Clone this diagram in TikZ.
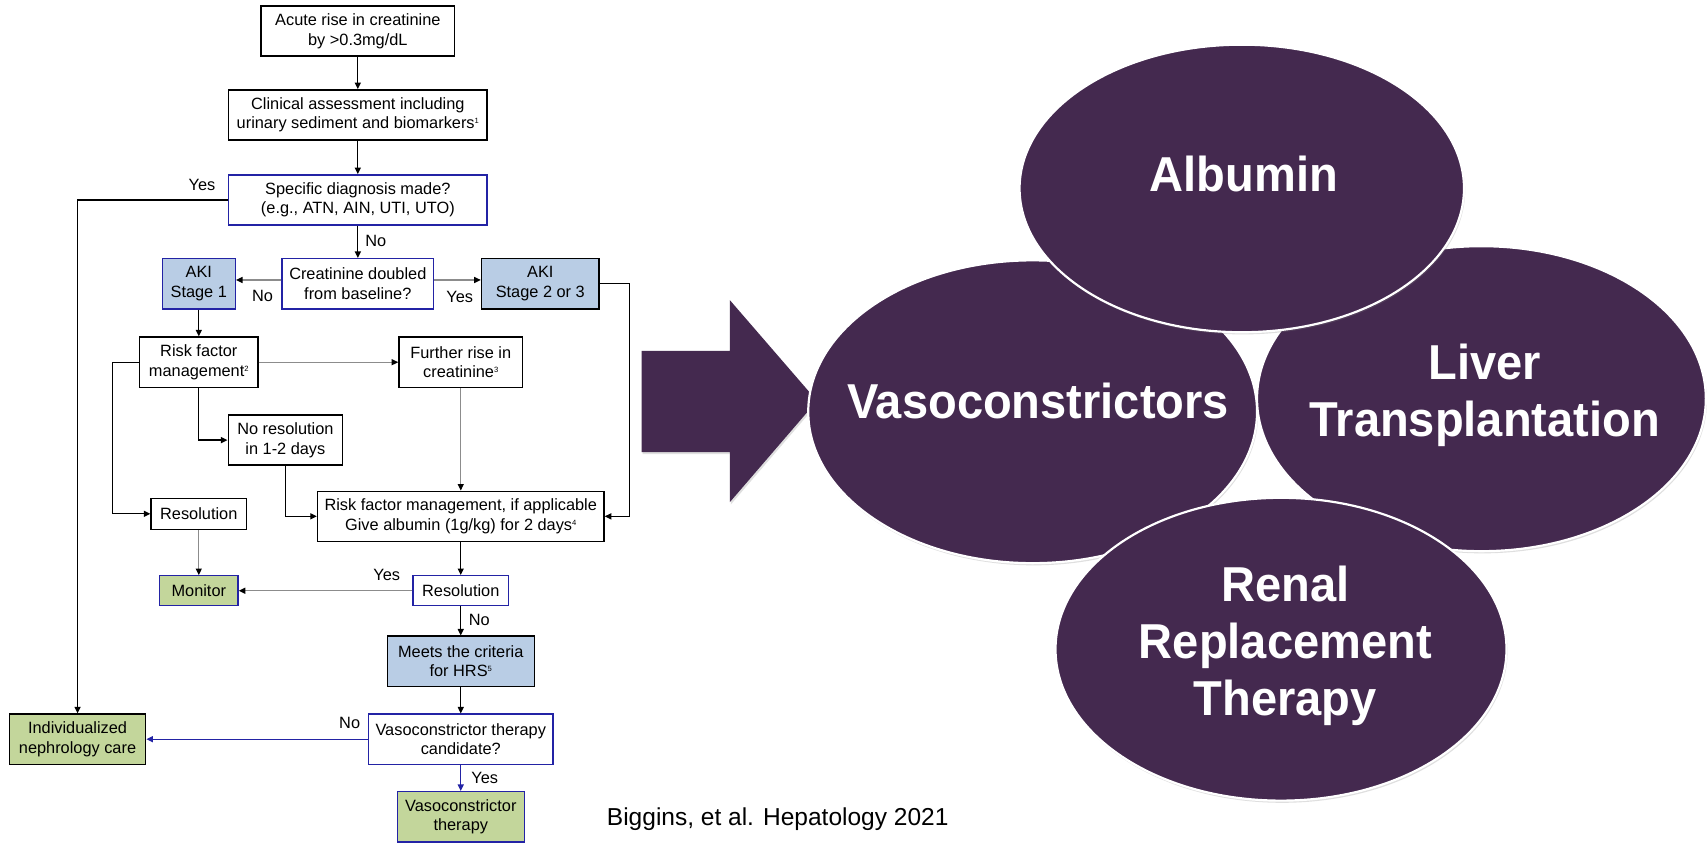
\documentclass[tikz,border=0pt]{standalone}
\usepackage{fontspec}
\setmainfont{Liberation Sans}
\newfontfamily\bubblefont{Liberation Sans}[FakeStretch=0.96]
\usetikzlibrary{arrows.meta,shadows}
\definecolor{aubergine}{RGB}{68,41,79}
\definecolor{akiblue}{RGB}{185,205,229}
\definecolor{okgreen}{RGB}{195,214,155}
\definecolor{edgeblue}{RGB}{35,35,165}
\definecolor{linegray}{RGB}{140,140,140}
\newcommand{\supnum}[1]{\raisebox{0.6ex}{\fontsize{7}{7}\selectfont #1}}

\begin{document}
\begin{tikzpicture}[x=1pt,y=-1pt,
  box/.style={draw, line width=1.3pt, inner sep=0pt, minimum height=46pt, align=center, font=\fontsize{15}{18}\selectfont},
  bluebox/.style={box, draw=edgeblue},
  lbl/.style={inner sep=0pt, font=\fontsize{15}{18}\selectfont},
  flow/.style={line width=1.2pt, -{Triangle[length=6pt,width=5.5pt]}},
  grayflow/.style={line width=1.2pt, draw=linegray, -{Triangle[length=6pt,width=5.5pt,color=black]}},
  blueflow/.style={flow, draw=edgeblue},
  softshadow/.style={drop shadow={opacity=0.25, shadow xshift=1pt, shadow yshift=-2pt}},
  bubble/.style={fill=aubergine, draw=white, line width=2pt, softshadow},
  bubbletext/.style={text=white, align=center, inner sep=0pt, font=\bubblefont\bfseries\fontsize{45}{52}\selectfont}]
  \fill[white] (0,0) rectangle (1568,773);
  % flowchart
  \node[box, minimum width=178pt] (acute) at (328.5,28.5) {Acute rise in creatinine\\by >0.3mg/dL};
  \node[box, minimum width=237pt] (clin) at (328.5,105.5) {Clinical assessment including\\urinary sediment and biomarkers\supnum{1}};
  \node[bluebox, minimum width=237pt] (spec) at (328.5,183.5) {Specific diagnosis made?\\(e.g., ATN, AIN, UTI, UTO)};
  \node[bluebox, minimum width=139pt] (dbl) at (328.5,260.5) {Creatinine doubled\\from baseline?};
  \node[bluebox, fill=akiblue, minimum width=67pt] (aki1) at (182.5,260.5) {AKI\\Stage 1};
  \node[box, fill=akiblue, minimum width=108pt] (aki2) at (496,260.5) {AKI\\Stage 2 or 3};
  \node[box, minimum width=108.5pt] (rfm) at (182.5,332.5) {Risk factor\\management\supnum{2}};
  \node[box, minimum width=113.5pt] (rise) at (423,332.5) {Further rise in\\creatinine\supnum{3}};
  \node[box, minimum width=105pt] (nores) at (262,404) {No resolution\\in 1-2 days};
  \node[box, minimum width=87.5pt, minimum height=28.5pt] (res1) at (182.5,471.7) {Resolution};
  \node[box, minimum width=263pt] (alb) at (423,474) {Risk factor management, if applicable\\Give albumin (1g/kg) for 2 days\supnum{4}};
  \node[bluebox, minimum width=88pt, minimum height=27.5pt] (res2) at (423,542.3) {Resolution};
  \node[bluebox, fill=okgreen, minimum width=72pt, minimum height=27.5pt] (mon) at (182.5,542.3) {Monitor};
  \node[box, fill=akiblue, minimum width=135pt] (hrs) at (423,607) {Meets the criteria\\for HRS\supnum{5}};
  \node[bluebox, minimum width=169pt] (cand) at (423,678.6) {Vasoconstrictor therapy\\candidate?};
  \node[box, fill=okgreen, minimum width=125pt] (indiv) at (71.2,678.6) {Individualized\\nephrology care};
  \node[bluebox, fill=okgreen, minimum width=116.5pt] (vtx) at (423,749.8) {Vasoconstrictor\\therapy};
  \draw[flow] (acute) -- (clin);
  \draw[flow] (clin) -- (spec);
  \draw[flow] (spec) -- (dbl);
  \draw[flow] (spec.west) -| (indiv.north);
  \draw[grayflow] (dbl.west |- 0,257) -- (aki1.east |- 0,257);
  \draw[grayflow] (dbl.east |- 0,257) -- (aki2.west |- 0,257);
  \draw[flow] (aki2.east) -- ++(27,0) |- (alb.east);
  \draw[flow] (aki1) -- (rfm);
  \draw[grayflow] (rfm) -- (rise);
  \draw[flow] (rfm.west) -- ++(-24.5,0) |- (res1.west);
  \draw[flow] (rfm.south) |- (nores.west);
  \draw[flow] (nores.south) |- (alb.west);
  \draw[grayflow] (rise) -- (alb);
  \draw[grayflow] (res1) -- (mon);
  \draw[flow] (alb) -- (res2);
  \draw[grayflow] (res2) -- (mon);
  \draw[flow] (res2) -- (hrs);
  \draw[flow] (hrs) -- (cand);
  \draw[blueflow] (cand) -- (indiv);
  \draw[blueflow] (cand) -- (vtx);
  \node[lbl] (yes1) at (185.5,170) {Yes};
  \node[lbl] (no1) at (345,221) {No};
  \node[lbl] (no2) at (241,272) {No};
  \node[lbl] (yes2) at (422,273) {Yes};
  \node[lbl] (yes3) at (355,528) {Yes};
  \node[lbl] (no3) at (440,569) {No};
  \node[lbl] (no4) at (321,664) {No};
  \node[lbl] (yes4) at (445,714) {Yes};
  % arrow and bubbles
  \fill[aubergine, softshadow] (589,322) -- (670,322) -- (670,275.5) -- (750,368) -- (670,461) -- (670,415) -- (589,415) -- cycle;
  \draw[bubble] (948,378) ellipse [x radius=206, y radius=139];
  \draw[bubble] (1360,366) ellipse [x radius=206, y radius=140];
  \draw[bubble] (1140,173) ellipse [x radius=204, y radius=132];
  \draw[bubble] (1176,596) ellipse [x radius=207, y radius=139];
  \node[bubbletext, anchor=base] (albtxt) at (1142,176) {Albumin};
  \node[bubbletext, anchor=base] (vctxt) at (953,384) {Vasoconstrictors};
  \node[bubbletext] (lttxt) at (1363,363) {Liver\\Transplantation};
  \node[bubbletext] (rrttxt) at (1180,593) {Renal\\Replacement\\Therapy};
  \node[anchor=west, inner sep=0pt, font=\fontsize{22.5}{27}\selectfont] (cite) at (557,752) {Biggins, et al. Hepatology 2021};
\end{tikzpicture}
\end{document}
